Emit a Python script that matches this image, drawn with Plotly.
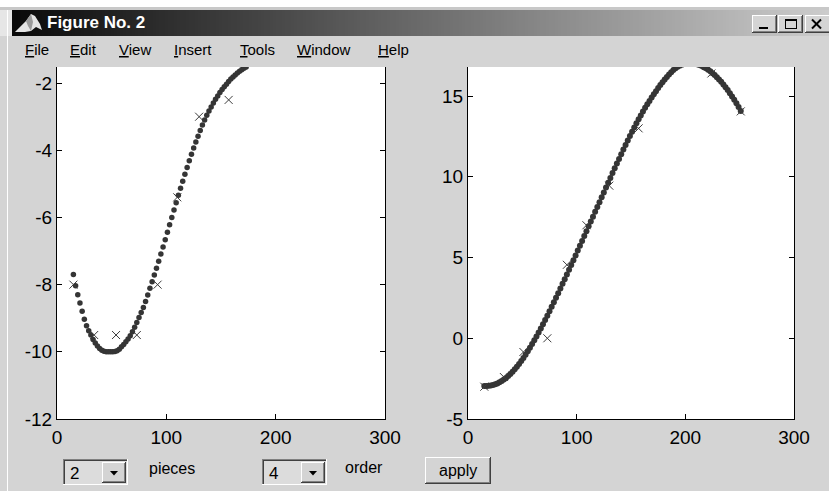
import plotly.graph_objects as go

W, H = 829, 491

# ---- data -------------------------------------------------------------
# dense evaluation of the fitted piecewise polynomial (pieces = 2, order = 4)
left_x = list(range(15, 174, 2))
left_y = [
    -7.70, -8.03, -8.30, -8.55, -8.79, -9.03, -9.22, -9.37, -9.50, -9.63,
    -9.74, -9.83, -9.90, -9.95, -9.98, -10.00, -10.00, -10.00, -10.00, -9.99,
    -9.97, -9.92, -9.85, -9.78, -9.70, -9.62, -9.52, -9.40, -9.27, -9.13,
    -8.98, -8.83, -8.68, -8.50, -8.31, -8.11, -7.91, -7.71, -7.51, -7.30,
    -7.09, -6.88, -6.66, -6.44, -6.22, -6.00, -5.78, -5.56, -5.34, -5.13,
    -4.92, -4.71, -4.51, -4.31, -4.12, -3.93, -3.75, -3.58, -3.41, -3.25,
    -3.10, -2.96, -2.83, -2.71, -2.59, -2.48, -2.38, -2.28, -2.19, -2.11,
    -2.03, -1.95, -1.88, -1.82, -1.76, -1.70, -1.65, -1.60, -1.56, -1.52,
]
right_x = list(range(15, 252, 2))
right_y = [
    -2.95, -2.95, -2.94, -2.92, -2.89, -2.85, -2.80, -2.73, -2.65, -2.56,
    -2.46, -2.34, -2.21, -2.07, -1.92, -1.76, -1.59, -1.41, -1.22, -1.02,
    -0.81, -0.59, -0.36, -0.13, 0.11, 0.36, 0.61, 0.87, 1.13, 1.40,
    1.67, 1.95, 2.23, 2.51, 2.79, 3.08, 3.37, 3.66, 3.95, 4.24,
    4.54, 4.83, 5.13, 5.43, 5.73, 6.03, 6.33, 6.63, 6.93, 7.23,
    7.53, 7.83, 8.13, 8.43, 8.73, 9.03, 9.33, 9.63, 9.93, 10.23,
    10.53, 10.82, 11.11, 11.40, 11.69, 11.97, 12.25, 12.52, 12.79, 13.05,
    13.31, 13.56, 13.80, 14.04, 14.27, 14.49, 14.70, 14.91, 15.11, 15.30,
    15.50, 15.69, 15.86, 16.03, 16.18, 16.33, 16.48, 16.61, 16.72, 16.82,
    16.89, 16.95, 16.99, 17.02, 17.03, 17.03, 17.02, 17.00, 16.97, 16.92,
    16.86, 16.79, 16.72, 16.63, 16.53, 16.42, 16.30, 16.17, 16.03, 15.88,
    15.72, 15.55, 15.37, 15.18, 14.98, 14.77, 14.55, 14.32, 14.08,
]
# sample points that were fitted
left_pts_x = [15, 34, 54, 73, 92, 110, 130, 157]
left_pts_y = [-8.0, -9.5, -9.5, -9.5, -8.0, -5.4, -3.0, -2.5]
right_pts_x = [15, 33, 51, 73, 91, 109, 130, 157, 224, 251]
right_pts_y = [-3.0, -2.4, -0.85, 0.0, 4.55, 7.0, 9.45, 13.0, 16.4, 14.05]

x_ticks = [0, 100, 200, 300]
left_y_ticks = [-12, -10, -8, -6, -4, -2]
right_y_ticks = [-5, 0, 5, 10, 15]

menu_items = ["<u>F</u>ile", "<u>E</u>dit", "<u>V</u>iew", "<u>I</u>nsert",
              "<u>T</u>ools", "<u>W</u>indow", "<u>H</u>elp"]
menu_left = [23, 68, 117, 172, 238, 295, 376]

# ---- helpers (pixel -> paper) -------------------------------------------
def px(x):
    return x / W


def py(y):
    return 1 - y / H


FACE = "#d4d4d4"
FONT = "Liberation Sans, Arial, sans-serif"
shapes = []
annotations = []


def rect(x0, y0, x1, y1, fill):
    shapes.append(dict(type="rect", xref="paper", yref="paper",
                       x0=px(x0), x1=px(x1), y0=py(y1), y1=py(y0),
                       fillcolor=fill, line=dict(width=0), layer="above"))


def raised(x0, y0, x1, y1):
    rect(x0, y0, x1, y1, FACE)
    rect(x0, y0, x1 - 1, y0 + 1, "#ffffff")
    rect(x0, y0, x0 + 1, y1 - 1, "#ffffff")
    rect(x0, y1 - 1, x1, y1, "#404040")
    rect(x1 - 1, y0, x1, y1, "#404040")
    rect(x0 + 1, y1 - 2, x1 - 1, y1 - 1, "#808080")
    rect(x1 - 2, y0 + 1, x1 - 1, y1 - 1, "#808080")


def sunken(x0, y0, x1, y1, fill):
    rect(x0, y0, x1, y1, fill)
    rect(x0, y0, x1, y0 + 1, "#808080")
    rect(x0, y0, x0 + 1, y1, "#808080")
    rect(x0 + 1, y0 + 1, x1 - 1, y0 + 2, "#404040")
    rect(x0 + 1, y0 + 1, x0 + 2, y1 - 1, "#404040")
    rect(x0, y1 - 1, x1, y1, "#ffffff")
    rect(x1 - 1, y0, x1, y1, "#ffffff")


def path(points, fill, line_color=None, width=0):
    d = "M " + " L ".join(f"{px(a):.5f},{py(b):.5f}" for a, b in points) + " Z"
    shapes.append(dict(type="path", xref="paper", yref="paper", path=d,
                       fillcolor=fill, layer="above",
                       line=dict(width=width, color=line_color or fill)))


def seg(x0, y0, x1, y1, color, width):
    shapes.append(dict(type="line", xref="paper", yref="paper",
                       x0=px(x0), y0=py(y0), x1=px(x1), y1=py(y1),
                       line=dict(color=color, width=width), layer="above"))


def text(x, y, s, size, color="black", anchor="left", bold=False):
    annotations.append(dict(xref="paper", yref="paper", x=px(x), y=py(y),
                            text=f"<b>{s}</b>" if bold else s, showarrow=False,
                            xanchor=anchor, yanchor="middle",
                            font=dict(family=FONT, size=size, color=color)))


# ---- window chrome -----------------------------------------------------
rect(0, 0, W, 7, "#ffffff")
rect(0, 7, W, 10, "#c8c8c8")
rect(0, 10, 12, 36, "#e6e6e6")
# title bar gradient
step = 3
for i in range(12, W, step):
    t = (i - 12) / (W - 12)
    g = int(10 + t * 195)
    rect(i, 10, i + step + 0.5, 36, f"rgb({g},{g},{g})")
rect(7, 10, 8, H, "#ffffff")

# figure icon
path([(15, 32), (21, 26), (26, 21), (31, 14), (35, 16), (40, 24), (42, 30),
      (36, 27), (31, 31), (25, 32)], "#e4e4e4")
path([(26, 21), (31, 14), (33, 22), (31, 31), (28, 26)], "#9a9a9a")
text(45, 23, "Figure No. 2", 17, color="white", bold=True)

# caption buttons
raised(752, 15, 777, 33)
rect(759, 27, 768, 29, "black")
raised(778, 15, 803, 33)
rect(785, 19, 797, 21, "black")
rect(785, 19, 786, 29, "black")
rect(796, 19, 797, 29, "black")
rect(785, 28, 797, 29, "black")
raised(805, 15, 832, 33)
seg(812, 19.5, 821, 28.5, "black", 2)
seg(821, 19.5, 812, 28.5, "black", 2)

# menu bar
for label, left in zip(menu_items, menu_left):
    text(left, 49, label, 15)

# bottom controls
sunken(63, 459, 128, 485, "#dcdcdc")
raised(102, 462, 126, 483)
path([(110, 471), (118, 471), (114, 475.5)], "black")
text(68, 473, "2", 17)
text(147, 468, "pieces", 16)

sunken(262, 459, 327, 485, "#dcdcdc")
raised(301, 462, 325, 483)
path([(309, 471), (317, 471), (313, 475.5)], "black")
text(267, 473, "4", 17)
text(343, 467, "order", 16)

raised(425, 457, 491, 484)
text(458, 470, "apply", 16, anchor="center")

# ---- plots -------------------------------------------------------------
fig = go.Figure()

dot_color = "#353535"
fig.add_trace(go.Scatter(x=left_x, y=left_y, mode="markers", xaxis="x", yaxis="y",
                         marker=dict(symbol="circle", size=5.5, color=dot_color),
                         showlegend=False, hoverinfo="skip"))
fig.add_trace(go.Scatter(x=left_pts_x, y=left_pts_y, mode="markers", xaxis="x", yaxis="y",
                         marker=dict(symbol="x-thin", size=8,
                                     line=dict(width=1, color="#3c3c3c")),
                         showlegend=False, hoverinfo="skip"))
fig.add_trace(go.Scatter(x=right_x, y=right_y, mode="markers", xaxis="x2", yaxis="y2",
                         marker=dict(symbol="circle", size=6, color=dot_color),
                         showlegend=False, hoverinfo="skip"))
fig.add_trace(go.Scatter(x=right_pts_x, y=right_pts_y, mode="markers", xaxis="x2", yaxis="y2",
                         marker=dict(symbol="x-thin", size=8,
                                     line=dict(width=1, color="#3c3c3c")),
                         showlegend=False, hoverinfo="skip"))

tickfont = dict(family=FONT, size=19, color="black")
common_x = dict(range=[0, 300], tickvals=x_ticks, ticktext=[str(v) for v in x_ticks],
                ticks="inside", ticklen=5, tickcolor="black", showline=True,
                linecolor="black", linewidth=1, mirror=False, showgrid=False,
                zeroline=False, tickfont=tickfont, fixedrange=True,
                automargin=False, ticklabelstandoff=1)
common_y = dict(ticks="inside", ticklen=5, tickcolor="black", showline=True,
                linecolor="black", linewidth=1, mirror="ticks", showgrid=False,
                zeroline=False, tickfont=tickfont, fixedrange=True,
                automargin=False, ticklabelstandoff=0)

ydom = [py(419), py(67)]
fig.update_layout(
    width=W, height=H,
    margin=dict(l=0, r=0, t=0, b=0, autoexpand=False),
    paper_bgcolor=FACE, plot_bgcolor="white",
    xaxis=dict(domain=[px(57), px(385)], anchor="y", **common_x),
    yaxis=dict(domain=ydom, anchor="x", range=[-12, -1.52], tickvals=left_y_ticks,
               ticktext=[str(v) for v in left_y_ticks], **common_y),
    xaxis2=dict(domain=[px(468), px(794)], anchor="y2", **common_x),
    yaxis2=dict(domain=ydom, anchor="x2", range=[-5, 16.8], tickvals=right_y_ticks,
                ticktext=[str(v) for v in right_y_ticks], **common_y),
    shapes=shapes,
    annotations=annotations,
)

fig.write_html("out.html")
